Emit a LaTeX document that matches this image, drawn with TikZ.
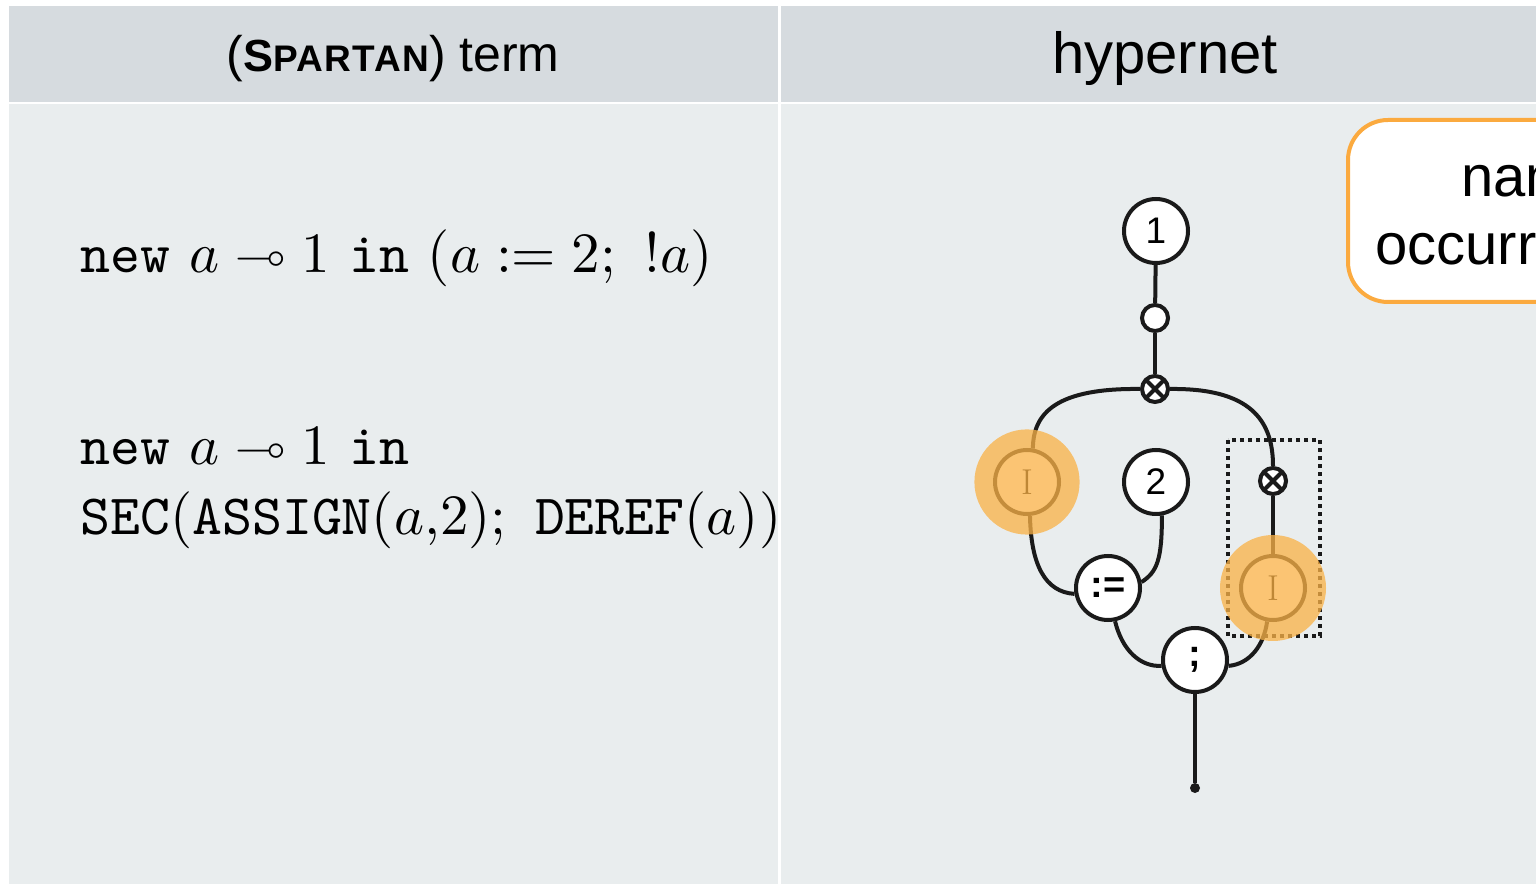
\documentclass[tikz,border=0pt]{standalone}
\usepackage{fontspec}
\usepackage{amssymb}
\usepackage{graphicx}
\usetikzlibrary{calc}
\newfontfamily\arial{Liberation Sans}
\definecolor{hdr}{HTML}{D6DBDF}
\definecolor{bodyc}{HTML}{E9EDEE}
\definecolor{halo}{HTML}{FAB248}
\definecolor{boxor}{HTML}{FBAA3F}
\definecolor{ink}{HTML}{1A1A1A}
\pgfdeclarelayer{bg}
\pgfdeclarelayer{edges}
\pgfdeclarelayer{top}
\pgfsetlayers{bg,edges,main,top}
\tikzset{
  wire/.style={draw=ink, line width=2pt},
  bignode/.style={circle, draw=ink, line width=2pt, fill=white, minimum size=32pt, inner sep=0pt},
  smallnode/.style={circle, draw=ink, line width=2pt, fill=white, minimum size=13pt, inner sep=0pt},
  lbl/.style={font=\arial\fontsize{18.5}{20}\selectfont},
  blbl/.style={font=\arial\bfseries\fontsize{19}{20}\selectfont},
  ilbl/.style={font=\rmfamily\fontsize{18}{20}\selectfont},
  termtxt/.style={anchor=base west, inner sep=0pt},
  halofill/.style={fill=halo, fill opacity=0.76},
}
\newcommand{\termscale}[1]{\scalebox{2.85}{$#1$}}
\newcommand{\lolli}{\mathrel{\raisebox{0.5pt}{\scalebox{0.8}{$\multimap$}}}}
\begin{document}
\begin{tikzpicture}[x=0.5pt,y=-0.5pt]
\useasboundingbox (0,0) rectangle (1536,886);
\clip (0,0) rectangle (1536,886);
\begin{pgfonlayer}{bg}
\fill[white] (0,0) rectangle (1536,886);
\fill[hdr] (9,6) rectangle (778,102);
\fill[hdr] (781,6) rectangle (1536,102);
\fill[bodyc] (9,104) rectangle (778,884);
\fill[bodyc] (781,104) rectangle (1536,884);
\end{pgfonlayer}

% headers
\node[anchor=base, inner sep=0pt] (hleft) at (393,72) {\arial\fontsize{25}{30}\selectfont (\bfseries{\fontsize{22.5}{25}\selectfont S}{\fontsize{18.5}{20}\selectfont\addfontfeatures{LetterSpace=4}PARTAN}\mdseries) term};
\node[anchor=base, inner sep=0pt, font=\arial\fontsize{29}{35}\selectfont] (hright) at (1165,74) {hypernet};

% terms
\node[termtxt] (t1txt) at (80,273) {\termscale{\mathtt{new}\ a \lolli 1\ \mathtt{in}\ (a := 2;\ !a)}};
\node[termtxt] (t2txt) at (80,465) {\termscale{\mathtt{new}\ a \lolli 1\ \mathtt{in}}};
\node[termtxt] (t3txt) at (80,535) {\termscale{\mathtt{SEC}(\mathtt{ASSIGN}(a{,}2);\ \mathtt{DEREF}(a))}};

% name occurrence box
\draw[boxor, line width=2pt, fill=white, rounded corners=20pt] (1348,120) rectangle (1640,302);
\node[anchor=base west, inner sep=0pt, font=\arial\fontsize{29}{35}\selectfont] (nm) at (1461,197) {name};
\node[anchor=base west, inner sep=0pt, font=\arial\fontsize{29}{35}\selectfont] (oc) at (1375,265) {occurrence};

% hypernet nodes
\node[bignode, lbl] (one) at (1156,231) {1};
\node[smallnode] (ob) at (1155,318) {};
\node[smallnode] (tA) at (1155,389) {};
\node[bignode, ilbl] (IL) at (1027,482) {I};
\node[bignode, lbl] (two) at (1156,482) {2};
\node[smallnode] (tB) at (1273,481) {};
\node[bignode, blbl] (as) at (1108,588) {:=};
\node[bignode, blbl] (sc) at (1195,660) {;};
\node[bignode, ilbl] (IR) at (1273,588) {I};
\node[circle, fill=ink, minimum size=5pt, inner sep=0pt] (dot) at (1195,788) {};
\foreach \t in {tA,tB}{
  \draw[ink, line width=2pt, line cap=round] ($(\t)+(-3.6pt,-3.6pt)$) -- ($(\t)+(3.6pt,3.6pt)$);
  \draw[ink, line width=2pt, line cap=round] ($(\t)+(-3.6pt,3.6pt)$) -- ($(\t)+(3.6pt,-3.6pt)$);
}

\begin{pgfonlayer}{edges}
\draw[wire] (one) -- (ob);
\draw[wire] (ob) -- (tA);
\draw[wire] (tA.west) .. controls (1058,388) and (1033,412) .. (IL.80);
\draw[wire] (tA.east) .. controls (1250,388) and (1273,420) .. (tB.north);
\draw[wire] (tB) -- (IR);
\draw[wire] (IL.-85) .. controls (1031,565) and (1045,592) .. (as.190);
\draw[wire] (two.-80) .. controls (1162,560) and (1157,572) .. (as.10);
\draw[wire] (as.-78) .. controls (1122,650) and (1140,667) .. (sc.190);
\draw[wire] (IR.-100) .. controls (1264,645) and (1250,664) .. (sc.-10);
\draw[wire] (sc) -- (dot);
\end{pgfonlayer}

% dotted box
\draw[ink, line width=1.8pt, dash pattern=on 2pt off 2pt] (1228,440) rectangle (1320,636);

\begin{pgfonlayer}{top}
\fill[halofill] (IL.center) circle[radius=26.3pt];
\fill[halofill] (IR.center) circle[radius=26.5pt];
\end{pgfonlayer}
\end{tikzpicture}
\end{document}
